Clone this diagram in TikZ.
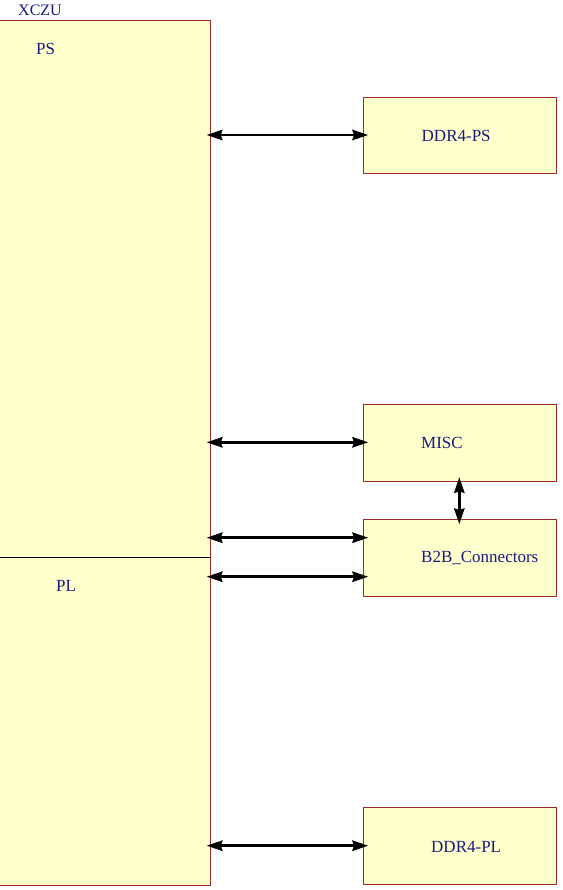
\documentclass[tikz,border=0pt]{standalone}
\usepackage{fontspec}
\setmainfont{Liberation Serif}
\usetikzlibrary{arrows.meta}
\definecolor{boxfill}{HTML}{FFFFCC}
\definecolor{boxline}{HTML}{9E2A2A}
\definecolor{txt}{HTML}{1A1A80}
\tikzset{
  blk/.style={draw=boxline, fill=boxfill, line width=1.3pt, inner sep=0pt, anchor=north west},
  lbl/.style={text=txt, font=\fontsize{17}{20}\selectfont, inner sep=0pt, anchor=west},
  tipa/.tip={Stealth[length=16pt,width=11pt,inset=2pt,line width=0pt]},
  biarrow/.style={line width=2.6pt, tipa-tipa}
}
\begin{document}
\begin{tikzpicture}[x=1pt,y=-1pt]
\useasboundingbox (0,0) rectangle (562,890);
% big block
\node[blk, minimum width=211pt, minimum height=865pt] (xczu) at (-1,20) {};
\node[lbl, font=\fontsize{16}{19}\selectfont] (xczulbl) at (18,10.5) {XCZU};
\node[lbl] (pslbl) at (36,48.5) {PS};
\node[lbl] (pllbl) at (56,586) {PL};
\coordinate (divl) at (0,557.5);
\draw[line width=1.8pt] (divl) -- (divl -| xczu.east);
% right blocks
\node[blk, minimum width=193pt, minimum height=76pt] (ddrps) at (363,97) {};
\node[blk, minimum width=193pt, minimum height=76.5pt] (misc) at (363,404) {};
\node[blk, minimum width=193pt, minimum height=76.5pt] (b2b) at (363,519) {};
\node[blk, minimum width=193pt, minimum height=76.5pt] (ddrpl) at (363,807) {};
\node[lbl] (ddrpslbl) at (421.5,135.5) {DDR4-PS};
\node[lbl] (misclbl) at (421,442.5) {MISC};
\node[lbl] (b2blbl) at (421,557.5) {B2B\_Connectors};
\node[lbl] (ddrpllbl) at (431,846.5) {DDR4-PL};
% connectors
\coordinate (a1) at (0,135);
\coordinate (a2) at (0,442.3);
\coordinate (a3) at (0,537.7);
\coordinate (a4) at (0,576.7);
\coordinate (a5) at (0,845.7);
\draw[biarrow] ([xshift=-4.5pt]a1 -| xczu.east) -- ([xshift=5pt]a1 -| ddrps.west);
\draw[biarrow] ([xshift=-4.5pt]a2 -| xczu.east) -- ([xshift=5pt]a2 -| misc.west);
\draw[biarrow] ([xshift=-4.5pt]a3 -| xczu.east) -- ([xshift=5pt]a3 -| b2b.west);
\draw[biarrow] ([xshift=-4.5pt]a4 -| xczu.east) -- ([xshift=5pt]a4 -| b2b.west);
\draw[biarrow] ([xshift=-4.5pt]a5 -| xczu.east) -- ([xshift=5pt]a5 -| ddrpl.west);
\coordinate (vx) at (459.3,0);
\draw[biarrow] ([yshift=4.5pt]vx |- misc.south) -- ([yshift=-5pt]vx |- b2b.north);
\end{tikzpicture}
\end{document}
